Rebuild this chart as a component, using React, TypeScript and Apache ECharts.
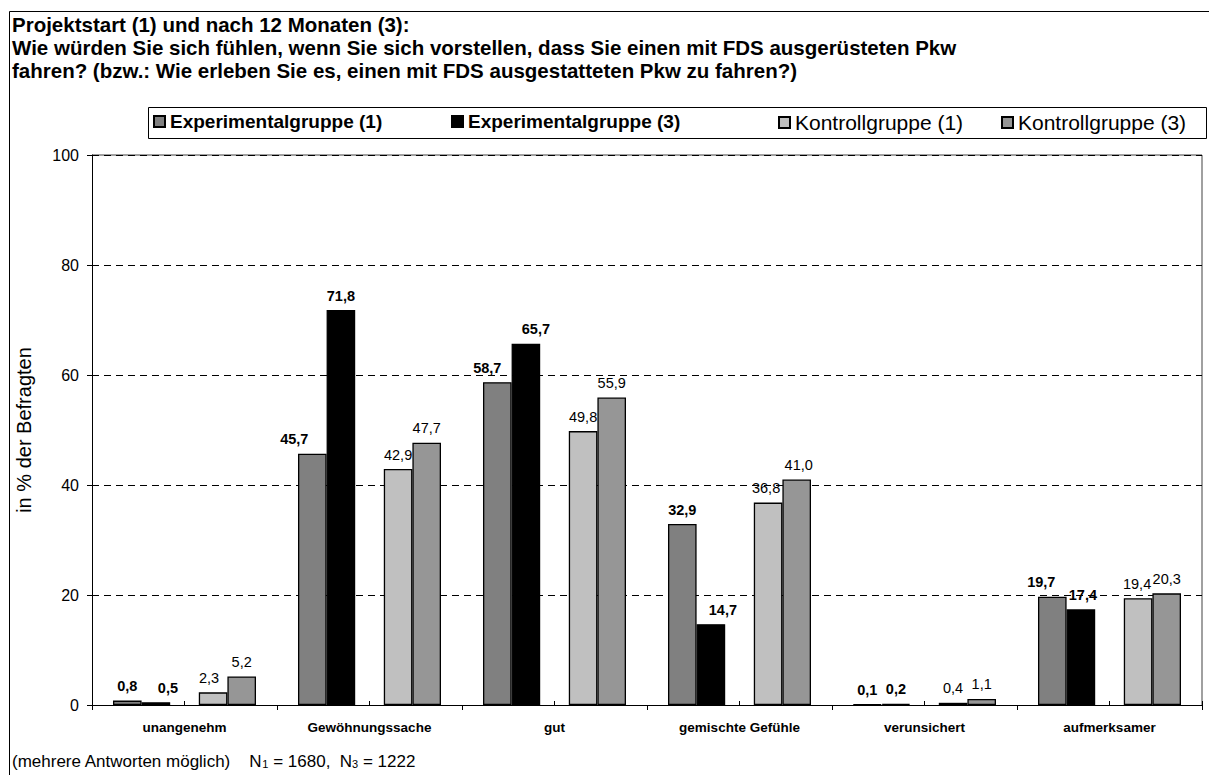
import React, { useEffect, useRef } from "react";
import * as echarts from "echarts";

const categories = ["unangenehm", "Gewöhnungssache", "gut", "gemischte Gefühle", "verunsichert", "aufmerksamer"];
const exp1 = [0.8, 45.7, 58.7, 32.9, 0.1, 19.7];
const exp3 = [0.5, 71.8, 65.7, 14.7, 0.2, 17.4];
const kon1 = [2.3, 42.9, 49.8, 36.8, 0.4, 19.4];
const kon3 = [5.2, 47.7, 55.9, 41.0, 1.1, 20.3];
const seriesNames = ["Experimentalgruppe (1)", "Experimentalgruppe (3)", "Kontrollgruppe (1)", "Kontrollgruppe (3)"];
const yMin = 0;
const yMax = 100;
const yStep = 20;
const titleLines = [
  "Projektstart (1) und nach 12 Monaten (3):",
  "Wie würden Sie sich fühlen, wenn Sie sich vorstellen, dass Sie einen mit FDS ausgerüsteten Pkw",
  "fahren? (bzw.: Wie erleben Sie es, einen mit FDS ausgestatteten Pkw zu fahren?)",
];
const yAxisName = "in % der Befragten";

// label x-shifts (style: mimic spreadsheet label placement)
const shiftExp1 = [0, -18, -10, 0, 0, -11];
const shiftExp3 = [12, 0, 10, 12, 0, 2];
const shiftKon1 = [-4, 0, 0, -2, 0, -1];
const shiftKon3 = [0, 0, 0, 2, 0, 0];

const FONT = "'Liberation Sans', Arial, sans-serif";
const fmt = (v: number) => v.toFixed(1).replace(".", ",");

export default function App() {
  const ref = useRef<HTMLDivElement>(null);
  useEffect(() => {
    document.body.style.margin = "0";
    const chart = echarts.init(ref.current!, undefined, { renderer: "svg" });
    const colors = ["#808080", "#000000", "#c0c0c0", "#969696"];
    const datas = [exp1, exp3, kon1, kon3];
    const shifts = [shiftExp1, shiftExp3, shiftKon1, shiftKon3];
    const mk = (i: number) => ({
      type: "bar",
      name: seriesNames[i],
      xAxisIndex: 0,
      data: datas[i].map((v, k) => ({ value: v, label: { offset: [shifts[i][k], 0] } })),
      itemStyle: { color: colors[i], borderColor: "#000", borderWidth: 1.3 },
      label: {
        show: true,
        position: "top",
        distance: 7,
        formatter: (p: any) => fmt(p.value),
        fontFamily: FONT,
        fontSize: 14.5,
        fontWeight: i < 2 ? "bold" : "normal",
        color: "#000",
      },
      barGap: "0%",
      barCategoryGap: "22.7%",
    });
    const gapSeries = {
      type: "bar",
      name: "_spacer",
      xAxisIndex: 0,
      data: categories.map(() => "-"),
      silent: true,
      barGap: "0%",
      barCategoryGap: "22.7%",
    };
    const legendX = [153, 451, 778, 1001];
    const legendSize = [19, 19, 21, 21];
    const option: any = {
      animation: false,
      backgroundColor: "#fff",
      grid: { left: 92, right: 7, top: 155, bottom: 70 },
      legend: seriesNames.map((n, i) => ({
        data: [n],
        left: legendX[i],
        top: 112,
        icon: "rect",
        itemWidth: 11,
        itemHeight: 11,
        padding: 0,
        selectedMode: false,
        textStyle: { fontFamily: FONT, fontSize: legendSize[i], fontWeight: i < 2 ? "bold" : "normal", color: "#000" },
      })),
      xAxis: [
        {
          type: "category",
          data: categories,
          axisLine: { lineStyle: { color: "#000", width: 1 } },
          axisTick: { show: true, length: 5, lineStyle: { color: "#000" } },
          axisLabel: { fontFamily: FONT, fontSize: 13.5, fontWeight: "bold", color: "#000", margin: 15 },
          splitLine: { show: false },
        },
        {
          type: "category",
          position: "bottom",
          data: categories.flatMap((c) => [c + "a", c + "b"]),
          axisLine: { show: false },
          axisTick: { show: true, inside: true, length: 4, interval: (idx: number) => idx % 2 === 1, lineStyle: { color: "#000" } },
          axisLabel: { show: false },
          splitLine: { show: false },
        },
      ],
      yAxis: {
        type: "value",
        min: yMin,
        max: yMax,
        interval: yStep,
        name: yAxisName,
        nameLocation: "middle",
        nameGap: 58,
        nameTextStyle: { fontFamily: FONT, fontSize: 20, color: "#000" },
        axisLine: { show: true, lineStyle: { color: "#000" } },
        axisTick: { show: true, length: 5, lineStyle: { color: "#000" } },
        axisLabel: { fontFamily: FONT, fontSize: 16, color: "#000", margin: 13 },
        splitLine: { show: true, lineStyle: { color: "#000", type: [7, 5], width: 1 } },
      },
      series: [mk(0), mk(1), gapSeries, mk(2), mk(3)],
      graphic: [
        { type: "rect", shape: { x: 9.5, y: 11.5, width: 1300, height: 900 }, style: { fill: "none", stroke: "#000", lineWidth: 1 }, silent: true },
        { type: "rect", shape: { x: 148.5, y: 107.5, width: 1058, height: 31 }, style: { fill: "none", stroke: "#000", lineWidth: 1 }, silent: true },
        { type: "line", shape: { x1: 1202, y1: 155, x2: 1202, y2: 705 }, style: { stroke: "#808080", lineWidth: 1.5 }, silent: true },
        { type: "line", shape: { x1: 92, y1: 155, x2: 1202, y2: 155 }, style: { stroke: "#808080", lineWidth: 1.5 }, silent: true },
        {
          type: "text",
          left: 12,
          top: 13,
          style: { text: titleLines.join("\n"), font: `bold 20.5px ${FONT}`, lineHeight: 23, fill: "#000" },
          silent: true,
        },
        {
          type: "text",
          left: 12,
          top: 753,
          style: {
            text: "(mehrere Antworten möglich)    N{s|1} = 1680,  N{s|3} = 1222",
            font: `17px ${FONT}`,
            fill: "#000",
            rich: { s: { fontSize: 11, fontFamily: FONT, padding: [5, 0, 0, 0] } },
          },
          silent: true,
        },
      ],
    };
    chart.setOption(option);
    return () => chart.dispose();
  }, []);
  return <div ref={ref} style={{ width: 1209, height: 775 }} />;
}
